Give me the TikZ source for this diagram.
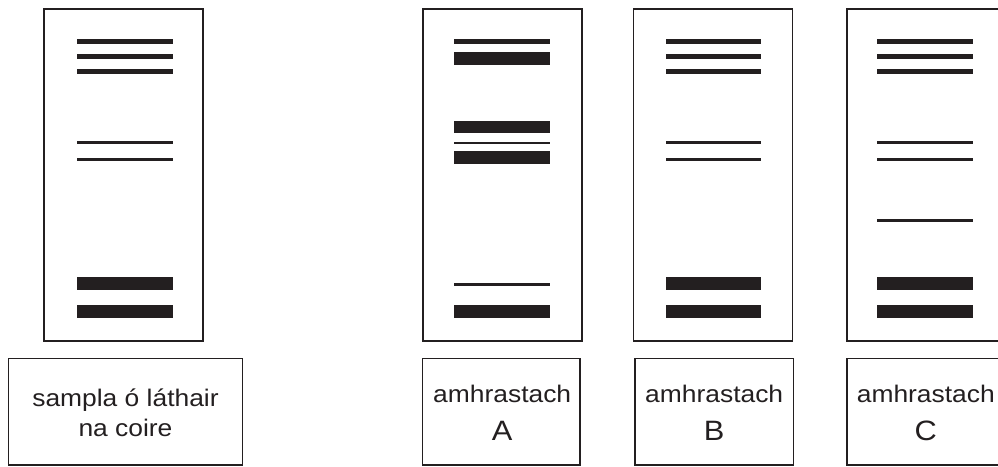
\documentclass[tikz,border=0pt]{standalone}
\usepackage{fontspec}
\newfontfamily\labelfont[FakeStretch=1.1]{Liberation Sans}
\definecolor{ink}{HTML}{231F20}
\tikzset{
  gelbox/.style={draw=ink, line width=1.9pt, minimum width=159pt, minimum height=332pt, inner sep=0pt},
  labbox/.style={draw=ink, line width=1.5pt, minimum height=106.3pt, inner sep=0pt},
  labtext/.style={font=\labelfont\fontsize{24}{28}\selectfont, text=ink, inner sep=0pt, anchor=base},
  lettertext/.style={font=\labelfont\fontsize{28}{32}\selectfont, text=ink, inner sep=0pt, anchor=base},
  band/.style={fill=ink}
}
% one band: left x, top y, thickness
\newcommand\gelband[3]{\fill[band] (#1,#2) rectangle ++(95.3,#3);}
\begin{document}
\begin{tikzpicture}[x=1pt, y=-1pt]
\useasboundingbox (0,0) rectangle (998,466);

% gel lanes
\node[gelbox] (gel1) at (123.75,175.4) {};
\node[gelbox] (gelA) at (502.25,175.4) {};
\node[gelbox] (gelB) at (713.0,175.4) {};
\node[gelbox] (gelC) at (926.2,175.4) {};

% lane 1: sample from the crime scene
\gelband{77.3}{39.3}{5}
\gelband{77.3}{54.3}{5}
\gelband{77.3}{69.0}{5}
\gelband{77.3}{141.0}{2.7}
\gelband{77.3}{158.3}{2.7}
\gelband{77.3}{277.3}{12.7}
\gelband{77.3}{305.0}{13.3}

% lane A
\gelband{454.2}{39.3}{5}
\gelband{454.2}{51.7}{13}
\gelband{454.2}{120.7}{12.7}
\gelband{454.2}{141.5}{2.9}
\gelband{454.2}{151.0}{13.3}
\gelband{454.2}{283.3}{3}
\gelband{454.2}{305.0}{13.3}

% lane B
\gelband{665.5}{39.3}{5}
\gelband{665.5}{54.3}{5}
\gelband{665.5}{69.0}{5}
\gelband{665.5}{141.0}{2.7}
\gelband{665.5}{158.3}{2.7}
\gelband{665.5}{277.3}{12.7}
\gelband{665.5}{305.0}{13.3}

% lane C
\gelband{877.3}{39.3}{5}
\gelband{877.3}{54.3}{5}
\gelband{877.3}{69.0}{5}
\gelband{877.3}{141.0}{2.7}
\gelband{877.3}{158.3}{2.7}
\gelband{877.3}{219.0}{2.7}
\gelband{877.3}{277.3}{12.7}
\gelband{877.3}{305.0}{13.3}

% label boxes
\node[labbox, minimum width=234.4pt] (lab1) at (125.5,411.85) {};
\node[labbox, minimum width=157.7pt] (labA) at (501.2,411.85) {};
\node[labbox, minimum width=158.3pt] (labB) at (714.2,411.85) {};
\node[labbox, minimum width=157.7pt] (labC) at (925.6,411.85) {};

\node[labtext] (lab1a) at (125.5,406) {sampla ó láthair};
\node[labtext] (lab1b) at (125.5,436) {na coire};
\node[labtext] (labAa) at (502.2,402.7) {amhrastach};
\node[lettertext] (labAb) at (502.2,440) {A};
\node[labtext] (labBa) at (714.2,402.7) {amhrastach};
\node[lettertext] (labBb) at (714.2,440) {B};
\node[labtext] (labCa) at (925.8,402.7) {amhrastach};
\node[lettertext] (labCb) at (925.8,440) {C};
\end{tikzpicture}
\end{document}
